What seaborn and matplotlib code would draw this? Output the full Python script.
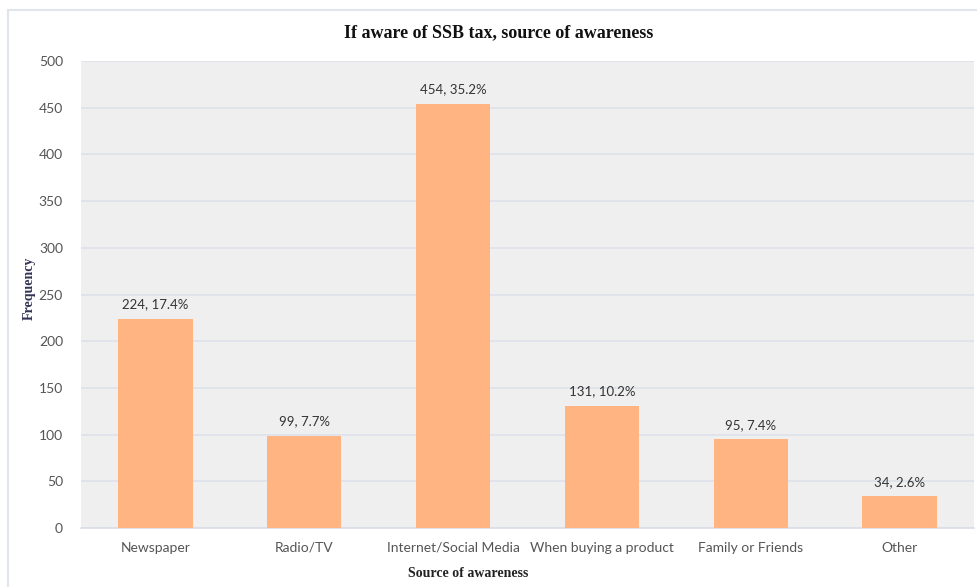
import matplotlib
matplotlib.use("Agg")
import matplotlib.pyplot as plt
import seaborn as sns
import pandas as pd
from matplotlib.patches import Rectangle

categories = ["Newspaper", "Radio/TV", "Internet/Social Media",
              "When buying a product", "Family or Friends", "Other"]
counts = [224, 99, 454, 131, 95, 34]
percents = [17.4, 7.7, 35.2, 10.2, 7.4, 2.6]
yticks = [0, 50, 100, 150, 200, 250, 300, 350, 400, 450, 500]

df = pd.DataFrame({"Source": categories, "Frequency": counts})

sns.set_theme(style="white")
plt.rcParams['font.family'] = ['Lato', 'DejaVu Sans']

fig = plt.figure(figsize=(9.77, 5.87), dpi=100)
ax = fig.add_axes([81/977, 1-528/587, (974-81)/977, (528-61)/587])

# figure border
fig.patches.append(Rectangle((8/977, -0.05), 1.2, (587-10)/587 + 0.05,
                             transform=fig.transFigure, fill=False,
                             edgecolor="#dfe4ed", linewidth=1.5, zorder=0))

ax.set_facecolor("#efefef")
sns.barplot(data=df, x="Source", y="Frequency", color="#FFB482",
            saturation=1, width=0.5, ax=ax, zorder=3, edgecolor="none",
            linewidth=0)

ax.set_ylim(0, 500)
ax.set_yticks(yticks)
ax.yaxis.grid(True, color="#dde1ea", linewidth=1.2, zorder=0)
ax.set_axisbelow(True)
for s in ["top", "right", "left"]:
    ax.spines[s].set_visible(False)
ax.spines["bottom"].set_color("#d9dde6")
ax.spines["bottom"].set_linewidth(1.2)
ax.tick_params(axis="both", length=0, labelsize=10, colors="#555555")
ax.tick_params(axis="x", pad=10)
ax.tick_params(axis="y", pad=13)

for i, (c, p) in enumerate(zip(counts, percents)):
    ax.annotate(f"{c}, {p}%", (i, c), xytext=(0, 6), textcoords="offset points",
                ha="center", va="bottom", fontsize=9.5, color="#333333")

ax.set_xlabel("Source of awareness", family="Liberation Serif",
              fontweight="bold", fontsize=10, color="#222222")
ax.xaxis.set_label_coords((468 - 81) / (974 - 81), -(567 - 528) / (528 - 61))
ax.set_ylabel("Frequency", family="Liberation Serif",
              fontweight="bold", fontsize=10, color="#333355")
ax.yaxis.set_label_coords(-(81 - 36) / (974 - 81), (528 - 288) / (528 - 61))
fig.text(499/977, 1-33/587, "If aware of SSB tax, source of awareness",
         family="Liberation Serif", fontweight="bold", fontsize=13,
         ha="center", va="center", color="#111111")

fig.savefig("out.png", dpi=100)
